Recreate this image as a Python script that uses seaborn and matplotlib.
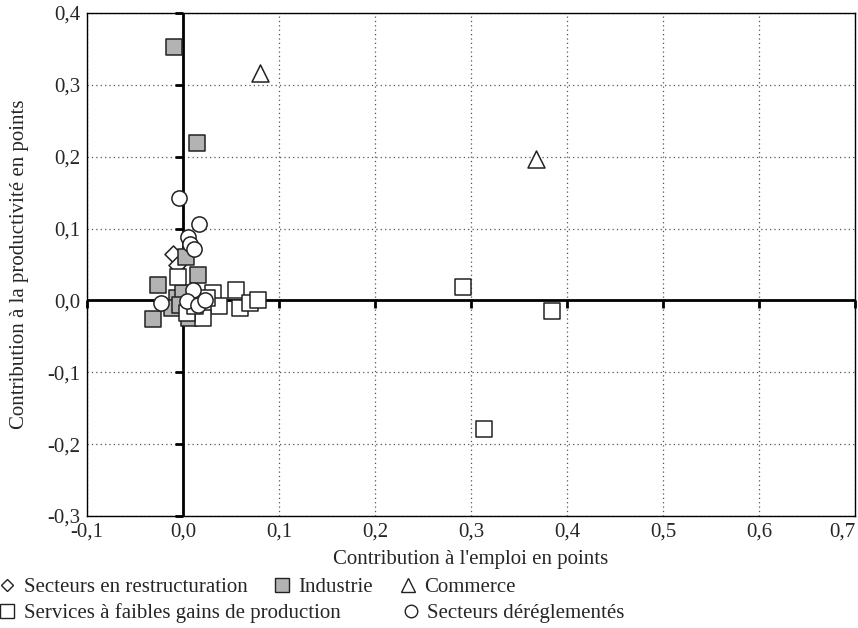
import matplotlib
matplotlib.use("Agg")
import matplotlib.pyplot as plt
import seaborn as sns
import numpy as np
import pandas as pd
from matplotlib.lines import Line2D

# Data (x = contribution emploi, y = contribution productivite)
restr_x = [-0.010, -0.006]
restr_y = [0.065, 0.049]

indus_x = [-0.009, 0.015, 0.003, 0.016, -0.026, -0.031, -0.006, -0.011, 0.006, 0.000, -0.003]
indus_y = [0.353, 0.219, 0.060, 0.035, 0.021, -0.026, 0.003, -0.011, -0.025, 0.010, -0.006]

comm_x = [0.080, 0.368]
comm_y = [0.317, 0.197]

serv_x = [-0.005, 0.031, 0.055, 0.038, 0.059, 0.070, 0.078, 0.021, 0.004, 0.025, 0.012,
          0.292, 0.384, 0.314]
serv_y = [0.032, 0.011, 0.014, -0.008, -0.011, -0.004, 0.000, -0.025, -0.018, 0.004, -0.008,
          0.019, -0.015, -0.179]

dereg_x = [-0.004, 0.017, 0.005, 0.007, 0.011, -0.023, 0.010, 0.004, 0.016, 0.023]
dereg_y = [0.142, 0.107, 0.088, 0.079, 0.071, -0.003, 0.015, -0.001, -0.006, 0.001]

xticks = np.round(np.arange(-0.1, 0.71, 0.1), 1)
yticks = np.round(np.arange(-0.3, 0.41, 0.1), 1)

sns.set_style("white")
plt.rcParams['font.family'] = ['Liberation Serif', 'DejaVu Serif']
FS = 15

fig = plt.figure(figsize=(8.58, 6.28), dpi=100)
ax = fig.add_axes([87/858, 1 - 516/628, (855 - 87)/858, (516 - 13)/628])

groups = [
    (restr_x, restr_y, "D", "white", 75),
    (indus_x, indus_y, "s", "#b3b3b3", 135),
    (serv_x, serv_y, "s", "white", 135),
    (comm_x, comm_y, "^", "white", 150),
    (dereg_x, dereg_y, "o", "white", 120),
]
for gx, gy, mk, fc, s in groups:
    df = pd.DataFrame({"x": gx, "y": gy})
    sns.scatterplot(data=df, x="x", y="y", marker=mk, color=fc, edgecolor="#222222",
                    linewidth=1.1, s=s, ax=ax, zorder=5)

ax.set_xlim(-0.1, 0.7)
ax.set_ylim(-0.3, 0.4)
ax.set_xticks(xticks)
ax.set_yticks(yticks)
ax.set_xticklabels([f"{v:.1f}".replace(".", ",") for v in xticks], fontsize=FS)
ax.set_yticklabels([f"{v:.1f}".replace(".", ",") for v in yticks], fontsize=FS)
ax.get_xticklabels()[-1].set_horizontalalignment("right")
ax.tick_params(length=0, pad=5)
ax.grid(True, linestyle=(0, (1, 2.5)), color="#555555", linewidth=0.9)
for sp in ax.spines.values():
    sp.set_color("black")
    sp.set_linewidth(1)

# thick axes through the origin with their own tick marks
ax.axhline(0, color="black", linewidth=2, zorder=3)
ax.axvline(0, color="black", linewidth=2, zorder=3)
ax.plot(np.zeros(len(yticks)), yticks, linestyle="none", marker=0, markersize=6,
        mew=2, color="black", zorder=3, clip_on=False)
ax.plot(xticks, np.zeros(len(xticks)), linestyle="none", marker=3, markersize=6,
        mew=2, color="black", zorder=3, clip_on=False)

ax.set_xlabel("Contribution à l'emploi en points", fontsize=FS, labelpad=6)
ax.set_ylabel("Contribution à la productivité en points", fontsize=FS, labelpad=13)

def handle(mk, fc, size):
    return Line2D([], [], linestyle="none", marker=mk, markerfacecolor=fc,
                  markeredgecolor="#222222", markersize=size, mew=1)

row1 = [handle("D", "white", 6.5), handle("s", "#b3b3b3", 9.5), handle("^", "white", 10)]
fig.legend(row1, ["Secteurs en restructuration", "Industrie", "Commerce"],
           ncol=3, loc="center left", bbox_to_anchor=(0.0, 1 - 587/628),
           frameon=False, fontsize=FS, handlelength=0.7, handletextpad=0.45,
           columnspacing=1.3, borderpad=0, borderaxespad=0)
row2 = [handle("s", "white", 10), handle("o", "white", 9)]
fig.legend(row2, ["Services à faibles gains de production", "Secteurs déréglementés"],
           ncol=2, loc="center left", bbox_to_anchor=(0.0, 1 - 613/628),
           frameon=False, fontsize=FS, handlelength=0.7, handletextpad=0.45,
           columnspacing=3.0, borderpad=0, borderaxespad=0)

fig.savefig("out.png", dpi=100)
